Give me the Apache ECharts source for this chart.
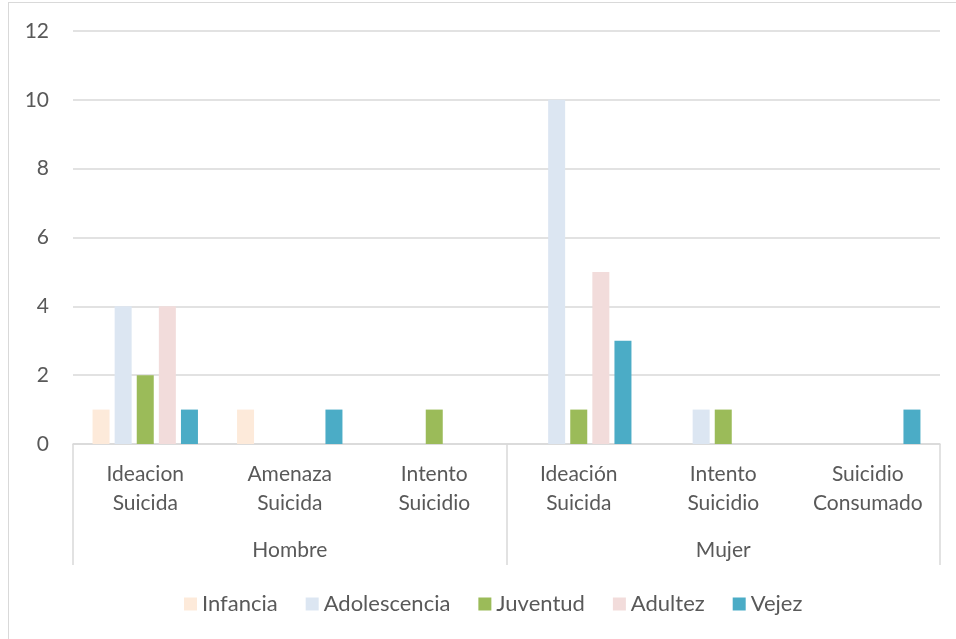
<!DOCTYPE html>
<html><head><meta charset="utf-8">
<script src="https://cdn.jsdelivr.net/npm/echarts@6/dist/echarts.min.js"></script>
<style>html,body{margin:0;padding:0;background:#fff}#c{width:956px;height:639px;position:relative}
#b{position:absolute;left:8px;top:2px;width:1000px;height:700px;border:1px solid #D9D9D9;box-sizing:border-box;pointer-events:none}</style>
</head><body><div id="c"></div><div id="b"></div>
<script>
const categories = ['Ideacion\nSuicida','Amenaza\nSuicida','Intento\nSuicidio','Ideación\nSuicida','Intento\nSuicidio','Suicidio\nConsumado'];
const groups = ['Hombre','Mujer'];
const seriesNames = ['Infancia','Adolescencia','Juventud','Adultez','Vejez'];
const infancia = [1,1,0,0,0,0];
const adolescencia = [4,0,0,10,1,0];
const juventud = [2,0,1,1,1,0];
const adultez = [4,0,0,5,0,0];
const vejez = [1,1,0,3,0,1];
const colors = ['#FDEADA','#DCE6F2','#9BBB59','#F2DCDB','#4BACC6'];
const yTicks = [0,2,4,6,8,10,12];

const values = [infancia, adolescencia, juventud, adultez, vejez];
const font = 'Lato, "Open Sans", sans-serif';
const fs = 21;
const chart = echarts.init(document.getElementById('c'), null, {renderer:'canvas'});
chart.setOption({
  animation:false,
  textStyle:{fontFamily:font},
  grid:{left:73,right:16,top:31,bottom:195,containLabel:false},
  legend:{top:588,left:179,itemWidth:13,itemHeight:13,itemGap:28,icon:'rect',
    textStyle:{fontSize:22,color:'#595959',fontFamily:font,padding:[0,0,0,0]},
    data:seriesNames},
  xAxis:[{type:'category',data:categories,position:'bottom',
    axisLine:{lineStyle:{color:'#D9D9D9',width:1.5}},axisTick:{show:false},
    axisLabel:{color:'#595959',fontSize:fs,lineHeight:29,margin:16,interval:0,fontFamily:font}},
   {type:'category',data:groups,position:'bottom',gridIndex:0,
    axisLine:{show:false},
    axisTick:{show:true,length:121,lineStyle:{color:'#D9D9D9',width:1.5},alignWithLabel:false},
    axisLabel:{color:'#595959',fontSize:fs,margin:96,fontFamily:font}}],
  yAxis:{type:'value',min:yTicks[0],max:yTicks[yTicks.length-1],interval:2,
    axisLine:{show:false},axisTick:{show:false},
    splitLine:{lineStyle:{color:'#D9D9D9',width:1.5}},
    axisLabel:{color:'#595959',fontSize:fs,margin:24,fontFamily:font}},
  series: seriesNames.map((n,i)=>({name:n,type:'bar',xAxisIndex:0,data:values[i],
    barWidth:17,barGap:'30%',itemStyle:{color:colors[i]}}))
});
</script></body></html>
